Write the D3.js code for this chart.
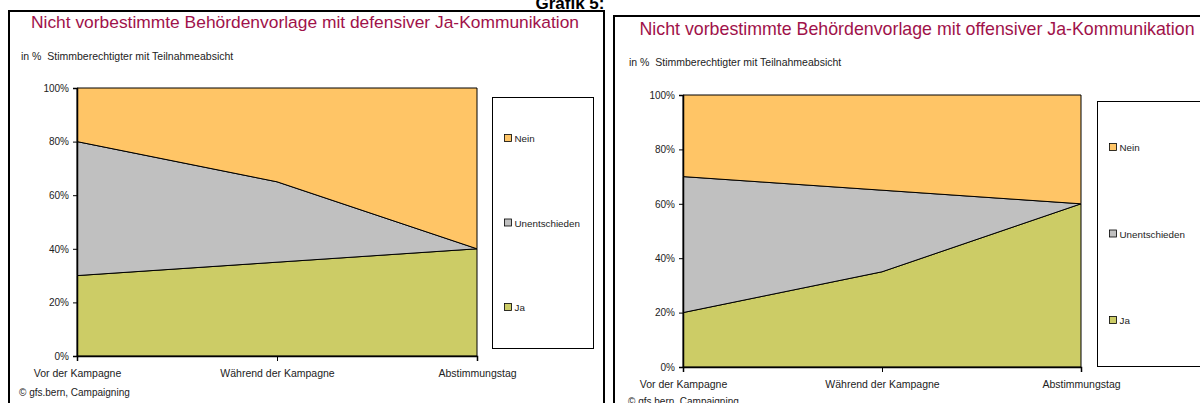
<!DOCTYPE html>
<html>
<head>
<meta charset="utf-8">
<script src="https://cdn.jsdelivr.net/npm/d3@7"></script>
<style>
  body { margin: 0; background: #fff; }
  text { font-family: "Liberation Sans", Arial, sans-serif; }
</style>
</head>
<body>
<svg id="chart" width="1200" height="403"></svg>
<script>
// data
var categories = ["Vor der Kampagne", "Während der Kampagne", "Abstimmungstag"];
var seriesNames = ["Ja", "Unentschieden", "Nein"];
var jaDefensiv = [30, 35, 40];
var unentDefensiv = [50, 30, 0];
var neinDefensiv = [20, 35, 60];
var jaOffensiv = [20, 35, 60];
var unentOffensiv = [50, 30, 0];
var neinOffensiv = [30, 35, 40];
var yTicks = [0, 20, 40, 60, 80, 100];
var titles = [
    "Nicht vorbestimmte Behördenvorlage mit defensiver Ja-Kommunikation",
    "Nicht vorbestimmte Behördenvorlage mit offensiver Ja-Kommunikation"
];
var colors = { "Ja": "#CCCC66", "Unentschieden": "#C0C0C0", "Nein": "#FFC566" };

var svg = d3.select("#chart");

svg.append("text")
    .attr("x", 570).attr("y", 9)
    .attr("text-anchor", "middle")
    .style("font-size", "17px").style("font-weight", "bold")
    .text("Grafik 5:");

function buildRows(ja, unent, nein) {
    return categories.map(function (c, i) {
        return { cat: c, "Ja": ja[i], "Unentschieden": unent[i], "Nein": nein[i] };
    });
}

function drawPanel(p) {
    var g = svg.append("g");

    // panel frame
    g.append("rect")
        .attr("x", p.frame[0]).attr("y", p.frame[1])
        .attr("width", p.frame[2]).attr("height", p.frame[3])
        .attr("fill", "none").attr("stroke", "#000").attr("stroke-width", 2);

    g.append("text")
        .attr("x", p.titleX).attr("y", p.titleY)
        .attr("text-anchor", "middle")
        .attr("fill", "#A0124A")
        .style("font-size", p.titleSize + "px")
        .text(p.title);

    g.append("text")
        .attr("x", p.subX).attr("y", p.subY)
        .attr("fill", "#222")
        .style("font-size", "10.5px")
        .style("white-space", "pre")
        .text("in %  Stimmberechtigter mit Teilnahmeabsicht");

    var xScale = d3.scalePoint().domain(categories).range([p.x0, p.x1]).padding(0);
    var yScale = d3.scaleLinear().domain([0, 100]).range([p.y0, p.y1]);

    var stack = d3.stack().keys(seriesNames);
    var layers = stack(p.rows);

    var area = d3.area()
        .x(function (d) { return xScale(d.data.cat); })
        .y0(function (d) { return yScale(d[0]); })
        .y1(function (d) { return yScale(d[1]); });

    g.selectAll(".layer")
        .data(layers)
        .enter()
        .append("path")
        .attr("class", "layer")
        .attr("d", area)
        .attr("fill", function (d) { return colors[d.key]; })
        .attr("stroke", "#000")
        .attr("stroke-width", 1);

    // y axis
    var yAxis = d3.axisLeft(yScale).tickValues(yTicks)
        .tickFormat(function (d) { return d + "%"; })
        .tickSize(4).tickPadding(4);
    var yG = g.append("g")
        .attr("transform", "translate(" + p.x0 + ",0)")
        .call(yAxis);
    yG.select(".domain").attr("stroke", "#000").attr("stroke-width", 1.5);
    yG.selectAll("text").style("font-size", "10px").attr("fill", "#222")
        .style("font-family", "'Liberation Sans', Arial, sans-serif");

    // x axis
    var xAxis = d3.axisBottom(xScale).tickSize(5).tickPadding(9);
    var xG = g.append("g")
        .attr("transform", "translate(0," + p.y0 + ")")
        .call(xAxis);
    xG.select(".domain").attr("stroke", "#000").attr("stroke-width", 1.5);
    xG.selectAll("text").style("font-size", "10.5px").attr("fill", "#222")
        .style("font-family", "'Liberation Sans', Arial, sans-serif");

    g.append("text")
        .attr("x", p.copyX).attr("y", p.copyY)
        .attr("fill", "#222")
        .style("font-size", "10px")
        .text("© gfs.bern, Campaigning");

    // legend
    var lg = g.append("g");
    lg.append("rect")
        .attr("x", p.legend[0]).attr("y", p.legend[1])
        .attr("width", p.legend[2]).attr("height", p.legend[3])
        .attr("fill", "#fff").attr("stroke", "#000").attr("stroke-width", 1);

    var legendOrder = seriesNames.slice().reverse();
    var legendY = d3.scalePoint().domain(legendOrder)
        .range([p.legend[1] + p.legendPad, p.legend[1] + p.legend[3] - p.legendPad]);

    var items = lg.selectAll(".item")
        .data(legendOrder)
        .enter()
        .append("g")
        .attr("transform", function (d) {
            return "translate(" + (p.legend[0] + 12) + "," + legendY(d) + ")";
        });
    items.append("rect")
        .attr("x", 0).attr("y", -4)
        .attr("width", 7).attr("height", 7)
        .attr("fill", function (d) { return colors[d]; })
        .attr("stroke", "#000").attr("stroke-width", 0.8);
    items.append("text")
        .attr("x", 10).attr("y", 3.5)
        .attr("fill", "#222")
        .style("font-size", "9.8px")
        .text(function (d) { return d; });
}

drawPanel({
    rows: buildRows(jaDefensiv, unentDefensiv, neinDefensiv),
    title: titles[0], titleSize: 17.4,
    frame: [9, 11, 595, 400],
    titleX: 305, titleY: 28,
    subX: 21, subY: 60,
    x0: 77, x1: 477, y0: 356, y1: 88,
    copyX: 19, copyY: 396,
    legend: [492.5, 97.5, 101, 251],
    legendPad: 41
});

drawPanel({
    rows: buildRows(jaOffensiv, unentOffensiv, neinOffensiv),
    title: titles[1], titleSize: 17.8,
    frame: [614, 16, 600, 400],
    titleX: 917, titleY: 35,
    subX: 629, subY: 66,
    x0: 683, x1: 1081, y0: 367, y1: 95,
    copyX: 628, copyY: 405,
    legend: [1097.5, 101.5, 103, 265],
    legendPad: 46
});
</script>
</body>
</html>
